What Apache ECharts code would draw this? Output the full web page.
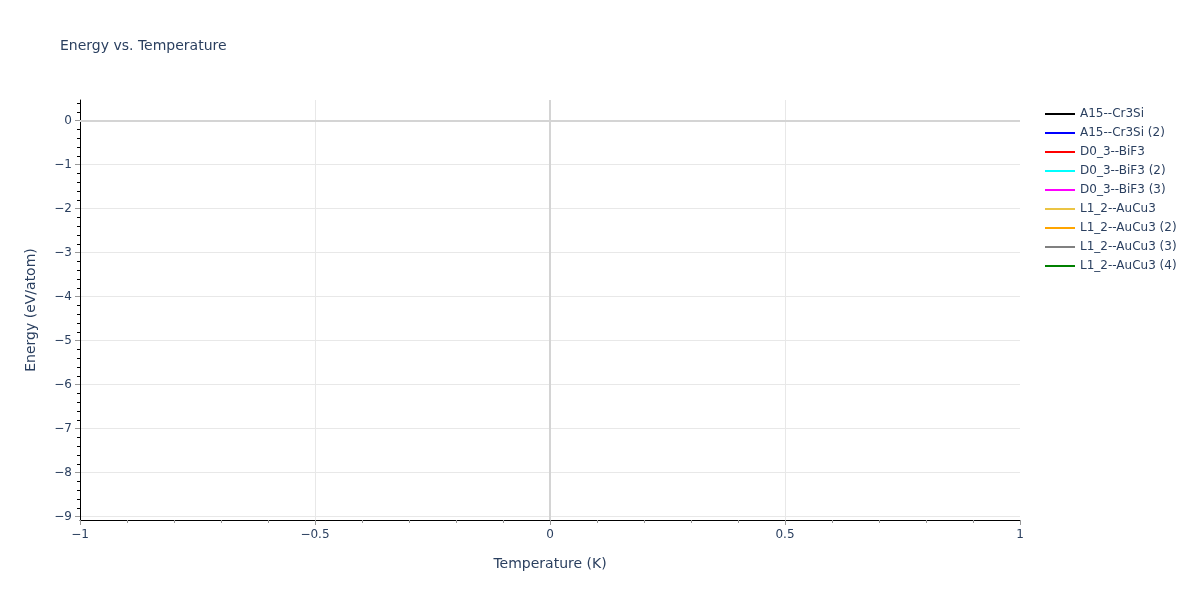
<!DOCTYPE html>
<html>
<head>
<meta charset="utf-8">
<script src="https://cdn.jsdelivr.net/npm/echarts@6/dist/echarts.min.js"></script>
<style>
  html, body { margin: 0; padding: 0; background: #fff; }
  #chart { width: 1200px; height: 600px; }
</style>
</head>
<body>
<div id="chart"></div>
<script>
const seriesNames = [
  "A15--Cr3Si",
  "A15--Cr3Si (2)",
  "D0_3--BiF3",
  "D0_3--BiF3 (2)",
  "D0_3--BiF3 (3)",
  "L1_2--AuCu3",
  "L1_2--AuCu3 (2)",
  "L1_2--AuCu3 (3)",
  "L1_2--AuCu3 (4)",
];
const seriesColors = ["#000000", "#0000ff", "#ff0000", "#00ffff", "#ff00ff", "#ebc444", "#ffa500", "#808080", "#008000"];
// no points are drawn in the reference: every series is empty
const seriesData = [[], [], [], [], [], [], [], [], []];

const xRange = [-1, 1];
const yRange = [-9.075, 0.47];
const yTicks = [0, -1, -2, -3, -4, -5, -6, -7, -8, -9];
const yMinorTicks = [0.4, 0.2, -0.2, -0.4, -0.6, -0.8, -1.2, -1.4, -1.6, -1.8, -2.2, -2.4, -2.6, -2.8,
  -3.2, -3.4, -3.6, -3.8, -4.2, -4.4, -4.6, -4.8, -5.2, -5.4, -5.6, -5.8, -6.2, -6.4, -6.6, -6.8,
  -7.2, -7.4, -7.6, -7.8, -8.2, -8.4, -8.6, -8.8];

const textColor = "#2a3f5f";
const font = "'DejaVu Sans', Verdana, sans-serif";

function minusText(value) {
  return String(value).replace("-", "\u2212");
}

const chart = echarts.init(document.getElementById("chart"));

const series = seriesNames.map((name, i) => ({
  name,
  type: "line",
  data: seriesData[i],
  showSymbol: false,
  symbol: "none",
  lineStyle: { color: seriesColors[i], width: 2 },
  itemStyle: { color: seriesColors[i] },
}));

// zero lines, as the reference draws them over the grid
series.push({
  name: "zero",
  type: "line",
  data: [],
  silent: true,
  markLine: {
    silent: true,
    symbol: "none",
    label: { show: false },
    lineStyle: { color: "#d4d4d4", width: 2, type: "solid" },
    data: [{ yAxis: 0 }, { xAxis: 0 }],
  },
});

chart.setOption({
  animation: false,
  textStyle: { fontFamily: font },
  title: {
    text: "Energy vs. Temperature",
    left: 55,
    top: 34,
    textStyle: { color: textColor, fontSize: 14, fontWeight: "normal", fontFamily: font },
  },
  legend: {
    orient: "vertical",
    left: 1040,
    top: 103,
    itemWidth: 30,
    itemHeight: 14,
    itemGap: 7,
    icon: "path://M0,0 L30,0 L30,2 L0,2 Z",
    data: seriesNames,
    textStyle: { color: textColor, fontSize: 12, fontFamily: font },
  },
  grid: { left: 80, right: 180, top: 100, bottom: 80, containLabel: false },
  xAxis: {
    type: "value",
    min: xRange[0],
    max: xRange[1],
    interval: 0.5,
    name: "Temperature (K)",
    nameLocation: "middle",
    nameGap: 37,
    nameTextStyle: { color: textColor, fontSize: 14, fontFamily: font },
    axisLine: { show: true, onZero: false, lineStyle: { color: "#000", width: 1 } },
    axisTick: { show: true, inside: false, length: 5, lineStyle: { color: "#999", width: 1 } },
    minorTick: { show: true, splitNumber: 5, length: 3, lineStyle: { color: "#999", width: 1 } },
    axisLabel: { color: textColor, fontSize: 12, margin: 9, formatter: minusText },
    splitLine: { show: true, showMinLine: false, showMaxLine: false, lineStyle: { color: "#e8e8e8", width: 1 } },
  },
  yAxis: [
    {
      type: "value",
      min: yRange[0],
      max: yRange[1],
      name: "Energy (eV/atom)",
      nameLocation: "middle",
      nameGap: 42,
      nameTextStyle: { color: textColor, fontSize: 14, fontFamily: font },
      axisLine: { show: true, onZero: false, lineStyle: { color: "#000", width: 1 } },
      axisTick: { show: true, customValues: yTicks, length: 5, lineStyle: { color: "#999", width: 1 } },
      axisLabel: { color: textColor, fontSize: 12, margin: 8, customValues: yTicks, formatter: minusText },
      splitLine: { show: true, lineStyle: { color: "#e8e8e8", width: 1 } },
    },
    {
      type: "value",
      min: yRange[0],
      max: yRange[1],
      position: "left",
      axisLine: { show: false, onZero: false },
      axisTick: { show: true, customValues: yMinorTicks, length: 3, lineStyle: { color: "#000", width: 1 } },
      axisLabel: { show: false },
      splitLine: { show: false },
    },
  ],
  series,
});
</script>
</body>
</html>
